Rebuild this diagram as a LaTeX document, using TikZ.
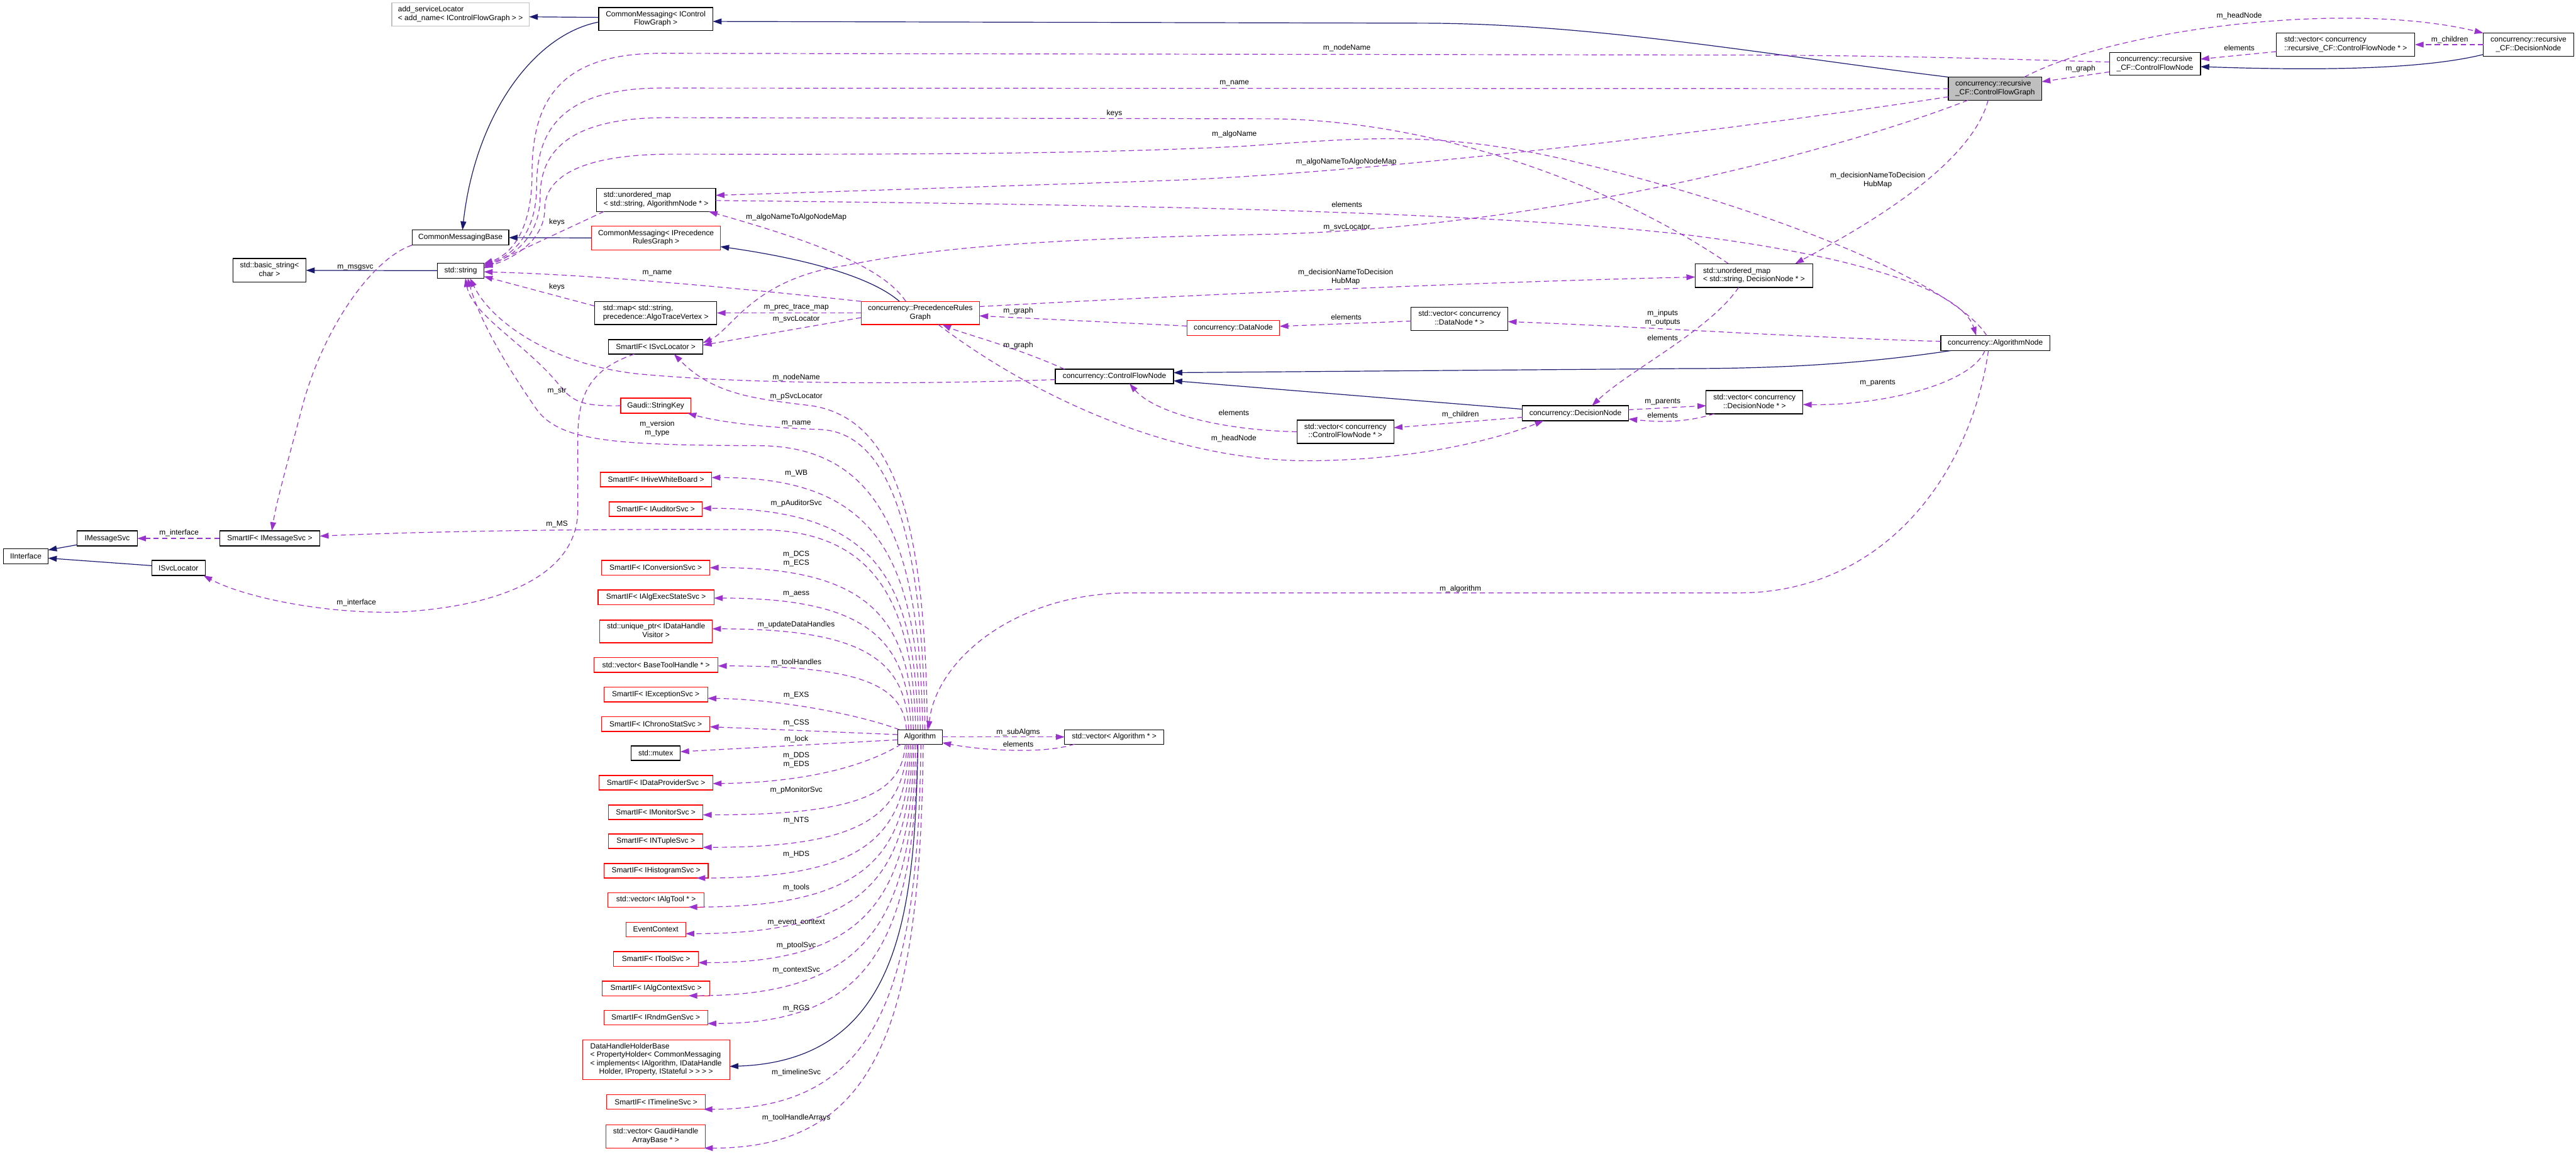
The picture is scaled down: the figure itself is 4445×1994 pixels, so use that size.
\documentclass[tikz,border=0pt]{standalone}
\usepackage{fontspec}
\setmainfont{Liberation Sans}
\usetikzlibrary{arrows.meta}
\definecolor{purp}{HTML}{9A32CD}
\definecolor{mblue}{HTML}{191970}
\definecolor{lgray}{HTML}{BFBFBF}
\newcommand{\twoline}[2]{\begin{tabular}{@{}l@{}}#1\\\multicolumn{1}{@{}c@{}}{#2}\end{tabular}}
\newcommand{\bx}[7]{\node[#6, minimum width={(#4-#2)*1pt}, minimum height={(#5-#3)*1pt}] (#1) at ({(#2+#4)/2},{(#3+#5)/2}) {#7};}
\newcommand{\lb}[4]{\node[lbl] (#1) at (#2,#3) {#4};}
\newcommand{\upc}[3]{\draw[usg] ([xshift={(#1-1587.5)*1pt}]alg.north) .. controls ({#1-5},{1259-0.7*(1259-#2)}) and ({#1-80},#2) .. (#3);}
\newcommand{\dnc}[3]{\draw[usg] ([xshift={(#1-1587.5)*1pt}]alg.south) .. controls ({#1-5},{1284+0.7*(#2-1284)}) and ({#1-80},#2) .. (#3);}
\tikzset{
 bxs/.style={draw=black, line width=1.3pt, inner sep=0pt, outer sep=0pt, font=\fontsize{13}{14.7}\selectfont},
 redb/.style={bxs, draw=red},
 grayb/.style={bxs, draw=lgray},
 focb/.style={bxs, fill=lgray},
 lbl/.style={inner sep=0.5pt, font=\fontsize{13}{14.7}\selectfont, align=center},
 inh/.style={draw=mblue, line width=1.3pt, -{Triangle[length=15pt,width=10pt]}},
 usg/.style={draw=purp, line width=1.3pt, dash pattern=on 9pt off 6pt, -{Triangle[length=15pt,width=10pt]}},
}
\begin{document}
\begin{tikzpicture}[x=1pt,y=-1pt]
\fill[white] (0,0) rectangle (4445,1994);
\useasboundingbox (0,0) rectangle (4445,1994);
% ---------- nodes ----------
\bx{asl}{676}{5}{913}{45}{grayb}{\twoline{add\_serviceLocator}{< add\_name< IControlFlowGraph > >}}
\bx{cmcfg}{1033}{13}{1230}{53}{bxs}{\twoline{CommonMessaging< IControl}{FlowGraph >}}
\bx{cmb}{711}{397}{878}{423}{bxs}{CommonMessagingBase}
\bx{bstr}{402}{446}{528}{487}{bxs}{\twoline{std::basic\_string<}{char >}}
\bx{str}{755}{454}{835}{480}{bxs}{std::string}
\bx{umapA}{1029}{325}{1235}{365}{bxs}{\twoline{std::unordered\_map}{< std::string, AlgorithmNode * >}}
\bx{cmprg}{1021}{390}{1243}{431}{redb}{\twoline{CommonMessaging< IPrecedence}{RulesGraph >}}
\bx{smap}{1026}{520}{1237}{560}{bxs}{\twoline{std::map< std::string,}{precedence::AlgoTraceVertex >}}
\bx{sisl}{1050}{586}{1213}{611}{bxs}{SmartIF< ISvcLocator >}
\bx{gsk}{1071}{687}{1192}{713}{redb}{Gaudi::StringKey}
\bx{hwb}{1036}{815}{1228}{840}{redb}{SmartIF< IHiveWhiteBoard >}
\bx{aud}{1051}{866}{1212}{891}{redb}{SmartIF< IAuditorSvc >}
\bx{imsgsvc}{133}{916}{237}{942}{bxs}{IMessageSvc}
\bx{sims}{379}{916}{552}{942}{bxs}{SmartIF< IMessageSvc >}
\bx{iint}{6}{947}{83}{973}{bxs}{IInterface}
\bx{isl}{262}{967}{354}{993}{bxs}{ISvcLocator}
\bx{conv}{1038}{967}{1225}{992}{redb}{SmartIF< IConversionSvc >}
\bx{aess}{1032}{1018}{1232}{1043}{redb}{SmartIF< IAlgExecStateSvc >}
\bx{uptr}{1035}{1070}{1229}{1109}{redb}{\twoline{std::unique\_ptr< IDataHandle}{Visitor >}}
\bx{bth}{1025}{1135}{1239}{1160}{redb}{std::vector< BaseToolHandle * >}
\bx{exs}{1042}{1186}{1221}{1211}{redb}{SmartIF< IExceptionSvc >}
\bx{css}{1038}{1237}{1225}{1262}{redb}{SmartIF< IChronoStatSvc >}
\bx{mutex}{1089}{1287}{1174}{1312}{bxs}{std::mutex}
\bx{dds}{1034}{1338}{1230}{1363}{redb}{SmartIF< IDataProviderSvc >}
\bx{mon}{1050}{1389}{1213}{1414}{redb}{SmartIF< IMonitorSvc >}
\bx{nts}{1050}{1439}{1213}{1464}{redb}{SmartIF< INTupleSvc >}
\bx{hds}{1042}{1490}{1222}{1515}{redb}{SmartIF< IHistogramSvc >}
\bx{algtool}{1049}{1540}{1215}{1565}{redb}{std::vector< IAlgTool * >}
\bx{evc}{1080}{1591}{1183}{1616}{redb}{EventContext}
\bx{tool}{1059}{1642}{1205}{1667}{redb}{SmartIF< IToolSvc >}
\bx{actx}{1039}{1693}{1225}{1718}{redb}{SmartIF< IAlgContextSvc >}
\bx{rndm}{1042}{1743}{1221}{1768}{redb}{SmartIF< IRndmGenSvc >}
\bx{dhhb}{1005}{1794}{1259}{1863}{redb}{\begin{tabular}{@{}l@{}}DataHandleHolderBase\\< PropertyHolder< CommonMessaging\\< implements< IAlgorithm, IDataHandle\\\multicolumn{1}{@{}c@{}}{Holder, IProperty, IStateful > > > >}\end{tabular}}
\bx{tl}{1047}{1889}{1217}{1914}{redb}{SmartIF< ITimelineSvc >}
\bx{gha}{1046}{1941}{1217}{1981}{redb}{\twoline{std::vector< GaudiHandle}{ArrayBase * >}}
\bx{alg}{1549}{1259}{1626}{1284}{bxs}{Algorithm}
\bx{valg}{1837}{1259}{2008}{1284}{bxs}{std::vector< Algorithm * >}
\bx{prg}{1486}{520}{1690}{560}{redb}{\twoline{concurrency::PrecedenceRules}{Graph}}
\bx{dnode}{2048}{553}{2208}{579}{redb}{concurrency::DataNode}
\bx{cfn}{1821}{637}{2025}{662}{bxs}{concurrency::ControlFlowNode}
\bx{umapD}{2925}{455}{3128}{496}{bxs}{\twoline{std::unordered\_map}{< std::string, DecisionNode * >}}
\bx{vdn}{2435}{530}{2602}{570}{bxs}{\twoline{std::vector< concurrency}{::DataNode * >}}
\bx{vdec}{2944}{674}{3111}{714}{bxs}{\twoline{std::vector< concurrency}{::DecisionNode * >}}
\bx{dec}{2627}{700}{2810}{726}{bxs}{concurrency::DecisionNode}
\bx{vcfn}{2238}{725}{2405}{765}{bxs}{\twoline{std::vector< concurrency}{::ControlFlowNode * >}}
\bx{rcfg}{3362}{133}{3523}{173}{focb}{\twoline{concurrency::recursive}{\_CF::ControlFlowGraph}}
\bx{rcfn}{3640}{91}{3797}{130}{bxs}{\twoline{concurrency::recursive}{\_CF::ControlFlowNode}}
\bx{vrcfn}{3928}{57}{4167}{97}{bxs}{\twoline{std::vector< concurrency}{::recursive\_CF::ControlFlowNode * >}}
\bx{rdec}{4285}{57}{4441}{97}{bxs}{\twoline{concurrency::recursive}{\_CF::DecisionNode}}
\bx{anode}{3349}{579}{3537}{605}{bxs}{concurrency::AlgorithmNode}
% ---------- inheritance ----------
\draw[inh] ([yshift=3pt]cmcfg.west) -- ([yshift=-4pt]asl.east);
\draw[inh] ([yshift=-5pt]cmcfg.west) .. controls (920,60) and (820,200) .. ([xshift=3.5pt]cmb.north);
\draw[inh] (cmprg.west) -- (cmb.east);
\draw[inh] (str.west) -- (bstr.east);
\draw[inh] (rcfg.north west) .. controls (3050,95) and (2750,40) .. (2450,40) -- ([yshift=-4pt]cmcfg.east);
\draw[inh] ([xshift=-36pt]prg.north) .. controls (1500,475) and (1380,445) .. ([yshift=-15pt]cmprg.east);
\draw[inh] ([xshift=-3.5pt]alg.south) .. controls (1578,1560) and (1560,1830) .. ([yshift=-11.5pt]dhhb.east);
\draw[inh] ([yshift=3pt]rdec.south west) .. controls (4180,120) and (4000,122) .. ([yshift=-4.5pt]rcfn.east);
\draw[inh] ([yshift=7pt]dec.west) -- ([yshift=-7.5pt]cfn.east);
\draw[inh] ([xshift=17pt]anode.south west) .. controls (3200,630) and (3050,636) .. (2900,636) -- ([yshift=6.5pt]cfn.east);
\draw[inh] ([yshift=2pt]imsgsvc.south west) -- ([yshift=11pt]iint.east);
\draw[inh] ([yshift=4pt]isl.west) -- ([yshift=-3pt]iint.east);
% ---------- usage: top right ----------
\draw[usg] ([xshift=50.5pt]rcfg.north) .. controls (3650,50) and (4050,0) .. (rdec.north west);
\draw[usg] ([yshift=-13.5pt]rcfn.west) -- ([yshift=12pt]rcfg.east);
\draw[usg] ([yshift=-12pt]vrcfn.west) -- ([yshift=8.5pt]rcfn.east);
\draw[usg] (rdec.west) -- (vrcfn.east);
% ---------- usage: into std::string ----------
\draw[usg] ([yshift=3.5pt]rcfn.west) .. controls (3450,102) and (3300,96) .. (3000,95) -- (1140,92) .. controls (960,92) and (918,180) .. (918,300) .. controls (918,400) and (880,440) .. ([yshift=-1pt]str.north east);
\draw[usg] (rcfg.west) -- (1140,152) .. controls (965,152) and (926,230) .. (926,320) .. controls (926,410) and (878,443) .. ([yshift=-3pt]str.north east);
\draw[usg] ([xshift=-44pt]umapD.north) .. controls (2800,330) and (2500,210) .. (2200,205) -- (1150,203) .. controls (970,203) and (932,270) .. (932,340) .. controls (932,415) and (876,446) .. ([yshift=-5pt]str.north east);
\draw[usg] ([xshift=-15pt]anode.north) .. controls (3380,500) and (3100,370) .. (2700,275) .. controls (2480,225) and (2350,238) .. (2150,252) .. controls (1850,268) and (1450,266) .. (1160,266) .. controls (975,266) and (940,320) .. (940,360) .. controls (940,420) and (875,450) .. ([yshift=-7pt]str.north east);
\draw[usg] ([xshift=-90pt]umapA.south) .. controls (985,392) and (880,440) .. ([yshift=-9pt]str.north east);
\draw[usg] (prg.north west) .. controls (1300,500) and (1050,475) .. ([yshift=-2pt]str.east);
\draw[usg] ([yshift=12pt]smap.west) -- ([yshift=-10pt]str.east);
\draw[usg] ([xshift=4.5pt]alg.north) .. controls (1588,940) and (1520,770) .. (1310,769) .. controls (1060,768) and (965,762) .. (925,705) .. controls (880,640) and (830,560) .. ([xshift=12pt]str.south);
\draw[usg] (gsk.west) .. controls (1010,701) and (990,695) .. (968,668) .. controls (910,595) and (815,545) .. ([xshift=8pt]str.south);
\draw[usg] ([yshift=-5.5pt]cfn.west) .. controls (1600,663) and (1300,664) .. (1100,645) .. controls (960,630) and (850,560) .. ([xshift=16pt]str.south);
% ---------- usage: middle ----------
\draw[usg] ([yshift=-14pt]rcfg.west) .. controls (2950,230) and (2350,300) .. (2000,312) .. controls (1700,322) and (1400,332) .. ([yshift=8pt]umapA.east);
\draw[usg] ([xshift=-25pt]prg.north) .. controls (1520,455) and (1380,410) .. ([xshift=91pt]umapA.south);
\draw[usg] ([yshift=-1pt]umapA.east) .. controls (1800,352) and (2500,360) .. (2900,404) .. controls (3200,440) and (3385,500) .. ([xshift=-33pt]anode.north);
\draw[usg] ([xshift=-47pt]rcfg.south) .. controls (3200,250) and (2700,390) .. (2200,404) .. controls (1900,410) and (1640,420) .. (1460,458) .. controls (1300,480) and (1262,570) .. ([yshift=7pt]sisl.east);
\draw[usg] ([yshift=-8pt]prg.west) -- ([yshift=3pt]sisl.east);
\draw[usg] ([xshift=-12pt]rcfg.south) .. controls (3400,290) and (3200,400) .. ([xshift=71pt]umapD.north);
\draw[usg] ([yshift=11pt]prg.east) .. controls (2000,512) and (2500,488) .. ([yshift=-2.5pt]umapD.west);
\draw[usg] (prg.west) -- (smap.east);
\draw[usg] ([yshift=3.5pt]dnode.west) -- ([yshift=-5pt]prg.east);
\draw[usg] ([xshift=-86pt]cfn.north) .. controls (1750,598) and (1660,575) .. ([xshift=38pt]prg.south);
\draw[usg] ([yshift=-4pt]vdn.west) -- ([yshift=3pt]dnode.east);
\draw[usg] ([yshift=3pt]anode.west) .. controls (3100,582) and (2800,562) .. ([yshift=-5pt]vdn.east);
\draw[usg] ([xshift=-26.5pt]umapD.south) .. controls (2950,570) and (2810,640) .. ([xshift=28.5pt]dec.north);
\draw[usg] ([yshift=6pt]dec.east) -- ([yshift=-6pt]vdec.west);
\draw[usg] ([xshift=14pt]vdec.south west) .. controls (2900,732) and (2850,727) .. ([yshift=-10pt]dec.east);
\draw[usg] ([xshift=-18pt]anode.south) .. controls (3400,665) and (3240,700) .. ([yshift=-4pt]vdec.east);
\draw[usg] ([yshift=-7pt]dec.west) -- ([yshift=7pt]vcfn.east);
\draw[usg] (vcfn.west) .. controls (2100,742) and (1990,710) .. ([xshift=26pt]cfn.south);
\draw[usg] ([xshift=31pt]prg.south) .. controls (1750,660) and (1990,792) .. (2250,795) .. controls (2450,795) and (2590,755) .. ([xshift=-55pt]dec.south);
\draw[usg] ([xshift=-12pt]anode.south) .. controls (3400,820) and (3250,1023) .. (3000,1023) -- (1950,1023) .. controls (1750,1023) and (1615,1140) .. ([xshift=14.5pt]alg.north);
\draw[usg] (alg.east) -- (valg.west);
\draw[usg] ([xshift=17pt]valg.south west) .. controls (1800,1302) and (1690,1294) .. ([yshift=-10pt]alg.east);
% ---------- usage: left ----------
\draw[usg] (cmb.south west) .. controls (645,445) and (560,560) .. (522,700) .. controls (500,785) and (478,860) .. ([xshift=3.5pt]sims.north);
\draw[usg] (sims.west) -- (imsgsvc.east);
\draw[usg] ([xshift=-37pt]sisl.south) .. controls (1010,640) and (997,690) .. (997,760) -- (997,880) .. controls (997,985) and (880,1045) .. (690,1056) .. controls (560,1060) and (420,1030) .. ([xshift=-3pt]isl.south east);
\draw[usg] ([xshift=12.5pt]alg.north) .. controls (1597,900) and (1545,722) .. (1400,700) .. controls (1300,688) and (1230,680) .. ([xshift=31.5pt]sisl.south);
\draw[usg] ([xshift=8.5pt]alg.north) .. controls (1592,920) and (1535,745) .. (1414,741) .. controls (1320,738) and (1240,728) .. ([xshift=55pt]gsk.south);
\draw[usg] ([xshift=-7.5pt]alg.north) .. controls (1575,1040) and (1510,915) .. (1310,914) .. controls (1050,912) and (750,916) .. ([yshift=4pt]sims.east);
\upc{1588}{824}{[yshift=3.5pt]hwb.east}
\upc{1584}{877}{[yshift=1.5pt]aud.east}
\upc{1576}{979}{conv.east}
\upc{1572}{1032}{[yshift=-1.5pt]aess.east}
\upc{1568}{1085}{[yshift=4.5pt]uptr.east}
\upc{1564}{1149}{[yshift=-1.5pt]bth.east}
\draw[usg] ([xshift=3pt]alg.north west) .. controls (1480,1232) and (1340,1206) .. ([yshift=-6.5pt]exs.east);
\draw[usg] ([yshift=4pt]alg.west) -- ([yshift=-4.5pt]css.east);
\draw[usg] ([yshift=-5pt]alg.west) -- ([yshift=2.5pt]mutex.east);
\draw[usg] ([xshift=6pt]alg.south west) .. controls (1500,1318) and (1400,1350) .. ([yshift=-1.5pt]dds.east);
\dnc{1562}{1406}{[yshift=-4.5pt]mon.east}
\dnc{1565}{1462}{[yshift=-10.5pt]nts.east}
\dnc{1568}{1515}{[xshift=-20pt]hds.south east}
\dnc{1571}{1565}{[xshift=-27pt]algtool.south east}
\dnc{1574}{1611}{[yshift=-7.5pt]evc.east}
\dnc{1577}{1661}{[yshift=-6.5pt]tool.east}
\dnc{1580}{1718}{[xshift=-37pt]actx.south east}
\dnc{1583}{1766}{[yshift=-10.5pt]rndm.east}
\dnc{1589}{1914}{[xshift=-3pt]tl.south east}
\dnc{1593}{1981}{[xshift=-2pt]gha.south east}
% ---------- labels ----------
\lb{l1}{3864}{28}{m\_headNode}
\lb{l2}{3590}{119}{m\_graph}
\lb{l3}{3864}{83}{elements}
\lb{l4}{4227}{69}{m\_children}
\lb{l5}{2324}{83}{m\_nodeName}
\lb{l6}{2130}{144}{m\_name}
\lb{l7}{1923}{196}{keys}
\lb{l8}{2130}{232}{m\_algoName}
\lb{l9}{2323}{279}{m\_algoNameToAlgoNodeMap}
\lb{l10}{2324}{353}{elements}
\lb{l11}{2324}{392}{m\_svcLocator}
\lb{l12}{3240}{311}{m\_decisionNameToDecision\\HubMap}
\lb{l13}{2322}{478}{m\_decisionNameToDecision\\HubMap}
\lb{l14}{961}{384}{keys}
\lb{l15}{961}{495}{keys}
\lb{l16}{613}{462}{m\_msgsvc}
\lb{l17}{1134}{471}{m\_name}
\lb{l18}{1374}{375}{m\_algoNameToAlgoNodeMap}
\lb{l19}{1374}{531}{m\_prec\_trace\_map}
\lb{l20}{1374}{551}{m\_svcLocator}
\lb{l21}{1757}{537}{m\_graph}
\lb{l22}{1757}{596}{m\_graph}
\lb{l23}{2323}{547}{elements}
\lb{l24}{2869}{548.5}{m\_inputs\\m\_outputs}
\lb{l25}{2869}{583}{elements}
\lb{l26}{2869}{693}{m\_parents}
\lb{l27}{2869}{717}{elements}
\lb{l28}{3240}{661}{m\_parents}
\lb{l29}{2520}{715}{m\_children}
\lb{l30}{2129}{712}{elements}
\lb{l31}{2129}{757}{m\_headNode}
\lb{l32}{1374}{651}{m\_nodeName}
\lb{l33}{1374}{684}{m\_pSvcLocator}
\lb{l34}{961}{675}{m\_str}
\lb{l35}{1374}{731}{m\_name}
\lb{l36}{1134}{739.5}{m\_version\\m\_type}
\lb{l37}{1374}{817}{m\_WB}
\lb{l38}{1374}{869}{m\_pAuditorSvc}
\lb{l39}{961}{904}{m\_MS}
\lb{l40}{309}{920}{m\_interface}
\lb{l41}{615}{1040}{m\_interface}
\lb{l42}{1374}{964}{m\_DCS\\m\_ECS}
\lb{l43}{1374}{1025}{m\_aess}
\lb{l44}{1374}{1078}{m\_updateDataHandles}
\lb{l45}{1374}{1143.5}{m\_toolHandles}
\lb{l46}{1374}{1200}{m\_EXS}
\lb{l47}{1374}{1247}{m\_CSS}
\lb{l48}{1374}{1275}{m\_lock}
\lb{l49}{1374}{1311.5}{m\_DDS\\m\_EDS}
\lb{l50}{1374}{1363}{m\_pMonitorSvc}
\lb{l51}{1374}{1415.5}{m\_NTS}
\lb{l52}{1374}{1474}{m\_HDS}
\lb{l53}{1374}{1532}{m\_tools}
\lb{l54}{1374}{1592}{m\_event\_context}
\lb{l55}{1374}{1631}{m\_ptoolSvc}
\lb{l56}{1374}{1674}{m\_contextSvc}
\lb{l57}{1374}{1740}{m\_RGS}
\lb{l58}{1374}{1851}{m\_timelineSvc}
\lb{l59}{1374}{1928.5}{m\_toolHandleArrays}
\lb{l60}{1757}{1264}{m\_subAlgms}
\lb{l61}{1757}{1284}{elements}
\lb{l62}{2520}{1016}{m\_algorithm}
\end{tikzpicture}
\end{document}
